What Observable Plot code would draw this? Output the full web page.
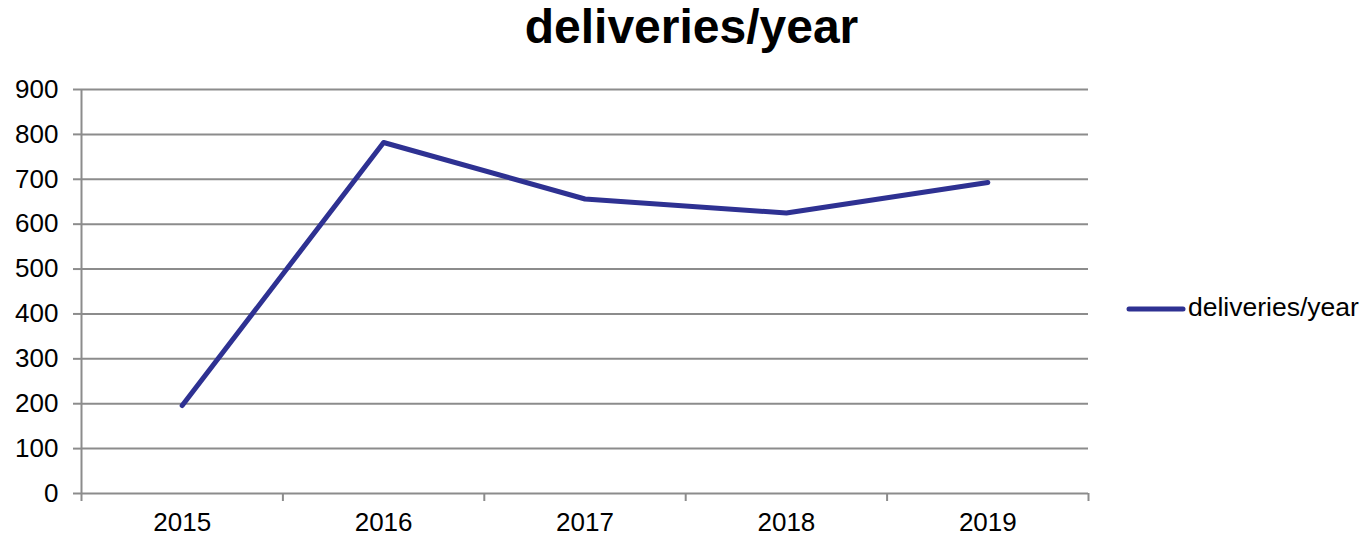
<!DOCTYPE html>
<html>
<head>
<meta charset="utf-8">
<script src="https://cdn.jsdelivr.net/npm/d3@7"></script>
<script src="https://cdn.jsdelivr.net/npm/@observablehq/plot@0.6"></script>
<style>
  html, body { margin: 0; padding: 0; background: #fff; }
  body { font-family: "Liberation Sans", Arial, sans-serif; width: 1366px; height: 537px; position: relative; overflow: hidden; }
  #title { height: 70px; width: 1366px; box-sizing: border-box; padding-left: 17px; text-align: center; font-weight: bold; font-size: 48px; line-height: 53px; color: #000; }
  #chart { position: absolute; left: 0; top: 70px; }
  #legend { position: absolute; left: 1126px; top: 292px; display: flex; align-items: center; font-size: 26.5px; color: #000; }
  #legend svg { display: block; }
</style>
</head>
<body>
<div id="title"></div>
<div id="chart"></div>
<div id="legend"></div>
<script>
const chartTitle = "deliveries/year";
const seriesName = "deliveries/year";
const years = [2015, 2016, 2017, 2018, 2019];
const deliveries = [196, 782, 656, 625, 693];
const yTicks = [0, 100, 200, 300, 400, 500, 600, 700, 800, 900];
const xBoundaries = [2014.5, 2015.5, 2016.5, 2017.5, 2018.5, 2019.5];

const lineColor = "#2e3192";
const gridColor = "#8c8c8c";

const data = years.map((year, i) => ({year, value: deliveries[i]}));

document.getElementById("title").textContent = chartTitle;

const chart = Plot.plot({
  width: 1110,
  height: 467,
  marginTop: 19,
  marginBottom: 44,
  marginLeft: 81,
  marginRight: 22,
  style: {fontFamily: "'Liberation Sans', Arial, sans-serif", background: "#fff", color: "#000"},
  x: {type: "linear", domain: [xBoundaries[0], xBoundaries[xBoundaries.length - 1]], label: null},
  y: {domain: [0, 900], label: null},
  marks: [
    Plot.gridY(yTicks, {stroke: gridColor, strokeOpacity: 1, strokeWidth: 2}),
    Plot.ruleX([xBoundaries[0]], {stroke: gridColor, strokeWidth: 2}),
    Plot.axisY(yTicks, {tickSize: 8, tickPadding: 15, fontSize: 26, stroke: gridColor, strokeWidth: 2, fill: "#000", label: null}),
    Plot.axisX(xBoundaries, {tickSize: 8, tickFormat: () => "", stroke: gridColor, strokeWidth: 2, label: null}),
    Plot.axisX(years, {tickSize: 0, tickPadding: 19, tickFormat: "d", fontSize: 26, fill: "#000", label: null}),
    Plot.line(data, {x: "year", y: "value", stroke: lineColor, strokeWidth: 5, strokeLinecap: "round", strokeLinejoin: "round"})
  ]
});
document.getElementById("chart").appendChild(chart);

const legend = document.getElementById("legend");
const sw = d3.create("svg").attr("width", 62).attr("height", 30);
sw.append("line").attr("x1", 3).attr("x2", 57).attr("y1", 16).attr("y2", 16)
  .attr("stroke", lineColor).attr("stroke-width", 5).attr("stroke-linecap", "round");
legend.appendChild(sw.node());
const lt = document.createElement("span");
lt.textContent = seriesName;
legend.appendChild(lt);
</script>
</body>
</html>
